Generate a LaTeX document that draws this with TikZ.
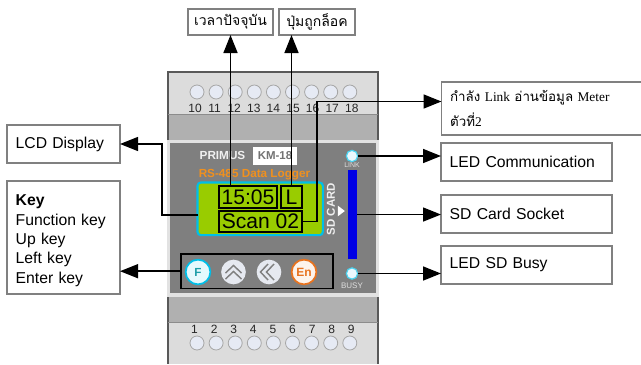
\documentclass[tikz,border=0pt]{standalone}
\usepackage{fontspec}
\setmainfont{Liberation Sans}
\newfontfamily\thaifont[Script=Thai]{Loma}
\newfontfamily\latinserif{Liberation Serif}
\usetikzlibrary{arrows.meta,shapes.geometric}
\definecolor{edgegray}{HTML}{808080}
\definecolor{termlight}{HTML}{DCDCDC}
\definecolor{bandgray}{HTML}{B0B0B0}
\definecolor{platedark}{HTML}{7F7F7F}
\definecolor{plateedge}{HTML}{E2E2E2}
\definecolor{termfill}{HTML}{E6EAF4}
\definecolor{lcdgreen}{HTML}{99CC00}
\definecolor{lcdcyan}{HTML}{00BFE8}
\definecolor{logoorange}{HTML}{F0901E}
\definecolor{enorange}{HTML}{E8731F}
\definecolor{ftext}{HTML}{1E9EA8}
\definecolor{btnfill}{HTML}{E6E9F0}
\tikzset{
  lblbox/.style n args={2}{draw=edgegray,line width=1.1pt,fill=white,anchor=north west,
    inner xsep=6.5pt,inner ysep=0pt,outer sep=0pt,align=left,
    text width={(#1-17.3)*.75pt},minimum height={#2*.75pt},font=\fontsize{11.8}{14.5}\selectfont},
  thaibox/.style n args={2}{draw=edgegray,line width=1.1pt,fill=white,anchor=north west,
    inner sep=0pt,outer sep=0pt,align=center,minimum width={#1*.75pt},minimum height={#2*.75pt},
    font=\thaifont\fontsize{10.5}{13}\selectfont},
  lcdbox/.style n args={2}{draw=black,line width=1pt,anchor=north west,inner sep=0pt,outer sep=0pt,
    minimum width={#1*.75pt},minimum height={#2*.75pt},font=\fontsize{15.8}{16}\selectfont},
  conn/.style={draw=black,line width=1.15pt},
  arr/.style={conn,-{Triangle[length=13.5pt,width=10.5pt]}},
  term/.style={circle,draw=black!35,line width=.6pt,fill=termfill,minimum size=10.5pt,inner sep=0pt},
  termnum/.style={inner sep=0pt,font=\fontsize{9}{10}\selectfont,text=black!85},
  band/.style={anchor=north west,inner sep=0pt,outer sep=0pt},
  led/.style={circle,draw=lcdcyan!70,line width=.9pt,fill=white!92!cyan,minimum size=8.5pt,inner sep=0pt,outer sep=0pt},
  ledtext/.style={inner sep=0pt,text=black!12,font=\fontsize{5.2}{6}\selectfont},
  btn/.style={circle,fill=btnfill,minimum size=18.5pt,inner sep=0pt,outer sep=0pt},
  chev/.style={draw=edgegray,line width=1.1pt},
}
\begin{document}
\begin{tikzpicture}[x=.75pt,y=-.75pt]
\useasboundingbox (0,0) rectangle (641,364);
% device body
\fill[termlight] (168,72) rectangle (378,114);
\fill[bandgray] (168,114) rectangle (378,140);
\draw[black!65,line width=.9pt] (168,140) -- (168,72) -- (378,72) -- (378,140);
\fill[bandgray] (168,296) rectangle (378,322);
\fill[termlight] (168,322) rectangle (378,364);
\draw[black!65,line width=.9pt] (168,296) -- (168,364);
\draw[black!65,line width=.9pt] (378,296) -- (378,364);
\draw[black!45,line width=.6pt] (168,114) -- (378,114) (168,322) -- (378,322);
\fill[plateedge] (167,140) rectangle (379,297);
\fill[platedark] (170,143) rectangle (376,293);
% terminals
\foreach \n [count=\i from 0] in {10,...,18} {
  \node[term] (tt\n) at ({197+19.1*\i},92) {};
  \node[termnum] (ttl\n) at ({195+19.6*\i},108) {\n};
}
\foreach \n [count=\i from 0] in {1,...,9} {
  \node[term] (bt\n) at ({197+19.1*\i},343) {};
  \node[termnum] (btl\n) at ({194.5+19.6*\i},329.5) {\n};
}
% logo
\node[inner sep=0pt,text=black!6,font=\bfseries\fontsize{8.8}{10}\selectfont] (primus) at (222.5,155) {PRIMUS};
\node[fill=white,minimum width=33pt,minimum height=13.5pt,inner sep=0pt,text=black!55,font=\bfseries\fontsize{8.6}{10}\selectfont] (model) at (275,156) {KM-18};
\node[inner sep=0pt,text=logoorange,font=\bfseries\fontsize{8.8}{10}\selectfont] (logger) at (254.5,175) {RS-485 Data Logger};
% LCD
\node[rectangle,rounded corners=2.5pt,draw=lcdcyan,line width=1.6pt,fill=lcdgreen,anchor=north west,minimum width=94pt,minimum height=39.5pt,inner sep=0pt,outer sep=0pt] (lcd) at (197.5,182.5) {};
\node[lcdbox={58}{22}] (timebox) at (219,186) {15:05};
\node[lcdbox={21}{22}] (lockbox) at (281,186) {L};
\node[lcdbox={83}{21}] (scanbox) at (219,211) {Scan 02};
\coordinate (lcdport) at (198,215);
% SD card and LEDs
\node[inner sep=0pt,rotate=90,text=black!6,font=\bfseries\fontsize{8.6}{10}\selectfont] (sdtext) at (331,209) {SD CARD};
\node[isosceles triangle,isosceles triangle apex angle=75,fill=white,inner sep=0pt,minimum height=4.5pt,minimum width=8pt,shape border rotate=0] (sdmark) at (340.5,211) {};
\node[band,fill=blue!90!black,minimum width=6.8pt,minimum height=66.8pt] (sdbar) at (348,170) {};
\node[led] (ledlink) at (352,156) {};
\node[ledtext] (linktxt) at (352,165.5) {LINK};
\node[led] (ledbusy) at (352,273.5) {};
\node[ledtext,font=\fontsize{6}{7}\selectfont] (busytxt) at (352,286) {BUSY};
% keys
\node[draw=black,line width=1.1pt,anchor=north west,minimum width=114pt,minimum height=25.8pt,inner sep=0pt,outer sep=0pt] (keybox) at (181,254) {};
\node[btn,draw=lcdcyan,line width=1.3pt,fill=white!90!lcdcyan] (fkey) at (198,272) {\textcolor{ftext}{\bfseries\fontsize{8.8}{10}\selectfont F}};
\node[btn] (upkey) at (233.5,272) {};
\draw[chev] (225.5,273) -- (233.5,265.5) -- (241.5,273) (225.5,279) -- (233.5,271.5) -- (241.5,279);
\node[btn] (leftkey) at (269,272) {};
\draw[chev] (268,264) -- (260.5,272) -- (268,280) (274,264) -- (266.5,272) -- (274,280);
\node[btn,draw=enorange,line width=1.3pt,fill=white!92!enorange] (enkey) at (304,272) {\textcolor{enorange}{\bfseries\fontsize{9}{10}\selectfont En}};
% label boxes
\node[thaibox={85}{26}] (lbltime) at (188,9) {เวลาปัจจุบัน};
\node[thaibox={76}{26}] (lbllock) at (279,9) {ปุ่มถูกล็อค};
\node[lblbox={113}{38},yshift=-.75pt] (lbllcd) at (7,124) {LCD Display};
\node[lblbox={113}{113}] (lblkey) at (7,181) {\rule{0pt}{13pt}\textbf{Key}\\Function key\\Up key\\Left key\\Enter key};
\node[lblbox={206}{53},font=\thaifont\fontsize{10}{18.5}\selectfont] (lbllink) at (441.5,82) {กำลัง {\latinserif Link} อ่านข้อมูล {\latinserif Meter}\\ตัวที่{\latinserif 2}};
\node[lblbox={171}{38}] (lblcomm) at (441,143) {LED Communication};
\node[lblbox={171}{38}] (lblsd) at (441,195) {SD Card Socket};
\node[lblbox={171}{38}] (lblbusy) at (441,246) {LED SD Busy};
\coordinate (linkport) at (441.5,101.5);
% connectors
\draw[arr] (lbltime.south |- timebox.north) -- (lbltime.south);
\draw[arr] (lockbox.north) -- (lockbox.north |- lbllock.south);
\draw[arr] (lcdport) -- ++(-36,0) |- (lbllcd.east);
\draw[arr] (keybox.west) -- (keybox.west -| lblkey.east);
\draw[arr] (scanbox.east) -- ++(15,0) |- (linkport);
\draw[arr] (ledlink.east) -- (ledlink.east -| lblcomm.west);
\draw[arr] (sdbar.east) -- (sdbar.east -| lblsd.west);
\draw[arr] (ledbusy.east) -- (ledbusy.east -| lblbusy.west);
\end{tikzpicture}
\end{document}
